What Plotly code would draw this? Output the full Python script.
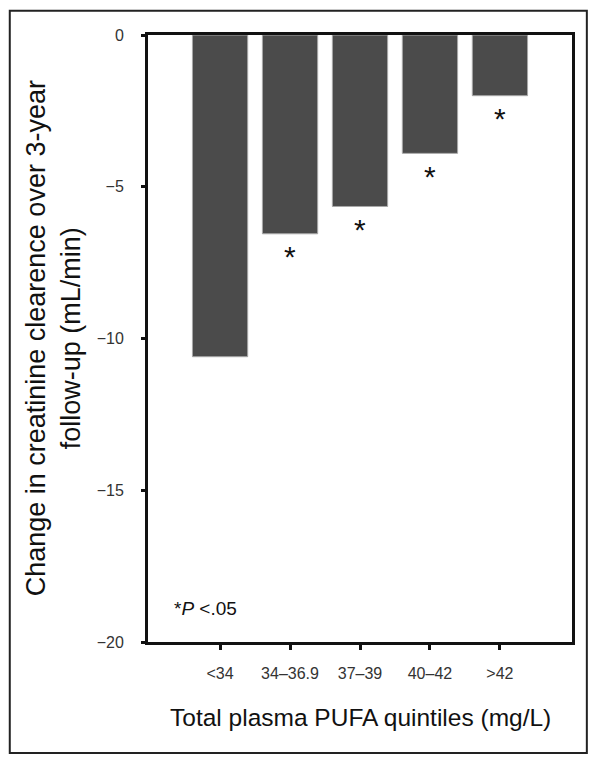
import plotly.graph_objects as go

# Data
quintiles = ["<34", "34–36.9", "37–39", "40–42", ">42"]
change_values = [-10.6, -6.55, -5.65, -3.9, -2.0]
significant = [False, True, True, True, True]

y_tickvals = [0, -5, -10, -15, -20]
y_ticktext = ["0", "−5", "−10", "−15", "−20"]

FONT = "Liberation Sans, Arial, Helvetica, sans-serif"

fig = go.Figure()

fig.add_trace(
    go.Bar(
        x=list(range(len(quintiles))),
        y=change_values,
        width=0.79,
        marker=dict(color="#4b4b4b", line=dict(color="#a8a8a8", width=1)),
        showlegend=False,
    )
)

# Asterisks below the significant bars
for i, (val, sig) in enumerate(zip(change_values, significant)):
    if sig:
        fig.add_annotation(
            x=i,
            y=val - 0.15,
            text="*",
            showarrow=False,
            yanchor="top",
            font=dict(size=30, color="#111111", family=FONT),
        )

# the page body has an 8px margin, so the figure is a bit smaller
fig.update_layout(
    width=584,
    height=750,
    margin=dict(l=140, r=20, t=27, b=116),
    plot_bgcolor="white",
    paper_bgcolor="white",
    font=dict(family=FONT, color="#222222"),
    xaxis=dict(
        range=[-1.03, 5.03],
        tickvals=list(range(len(quintiles))),
        ticktext=quintiles,
        ticks="outside",
        ticklen=5,
        tickwidth=3,
        tickcolor="#111111",
        ticklabelstandoff=10,
        tickfont=dict(size=16, color="#333333"),
        showgrid=False,
        zeroline=False,
        showline=True,
        linecolor="#111111",
        linewidth=3,
        mirror=True,
    ),
    yaxis=dict(
        range=[-20, 0],
        tickvals=y_tickvals,
        ticktext=y_ticktext,
        ticks="outside",
        ticklen=4,
        tickwidth=3,
        tickcolor="#111111",
        ticklabelstandoff=14,
        tickfont=dict(size=16, color="#333333"),
        showgrid=False,
        zeroline=False,
        showline=True,
        linecolor="#111111",
        linewidth=3,
        mirror=True,
    ),
)

# Axis titles
fig.add_annotation(
    xref="paper", yref="paper",
    x=-0.222, y=0.5,
    text="Change in creatinine clearence over 3-year<br>follow-up (mL/min)",
    textangle=-90,
    showarrow=False,
    xanchor="center", yanchor="middle",
    font=dict(size=27, color="#111111", family=FONT),
)
fig.add_annotation(
    xref="paper", yref="paper",
    x=0.5, y=-0.124,
    text="Total plasma PUFA quintiles (mg/L)",
    showarrow=False,
    xanchor="center", yanchor="middle",
    font=dict(size=24.5, color="#111111", family=FONT),
)

# Significance note
fig.add_annotation(
    xref="paper", yref="paper",
    x=0.057, y=0.056,
    text="*<i>P</i> <.05",
    showarrow=False,
    xanchor="left", yanchor="middle",
    font=dict(size=19, color="#111111", family=FONT),
)

# Outer frame around the figure
fig.add_shape(
    type="rect",
    xref="paper", yref="paper",
    x0=-0.326, x1=1.035, y0=-0.183, y1=1.04,
    line=dict(color="#222222", width=2),
    layer="below",
)

fig.write_html("out.html")
